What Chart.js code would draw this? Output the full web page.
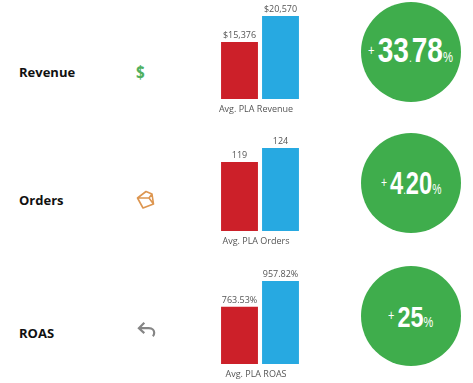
<!DOCTYPE html>
<html>
<head>
<meta charset="utf-8">
<script src="https://cdn.jsdelivr.net/npm/chart.js@4/dist/chart.umd.min.js"></script>
<style>
  html, body { margin: 0; padding: 0; background: #fff; }
  #page { position: relative; width: 473px; height: 383px; overflow: hidden; }
  canvas { position: absolute; left: 200px; }
  .name { position: absolute; left: 19px; font: bold 13px "Open Sans", sans-serif; color: #111; line-height: 20px; }
  .icon { position: absolute; }
  .circle { position: absolute; left: 361px; width: 100px; height: 100px; border-radius: 50%; background: #3fad4c; }
  .pct { position: absolute; white-space: nowrap; color: #fff; font-family: "Liberation Sans", sans-serif; font-weight: bold; line-height: 40px; transform-origin: left center; }
  .pct small { font-weight: normal; font-size: 14px; }
  .pct .plus { position: relative; top: -7px; margin-right: 4px; }
  .pct .dot { font-size: 13px; font-weight: normal; }
</style>
</head>
<body>
<div id="page">
  <div class="name" style="top:62px">Revenue</div>
  <div class="name" style="top:190px">Orders</div>
  <div class="name" style="top:323px">ROAS</div>

  <div class="icon" style="left:136px;top:60px;font:bold 18px 'Open Sans',sans-serif;color:#4fb05f;line-height:24px;transform:scaleX(.85);transform-origin:left center">$</div>
  <svg class="icon" style="left:134px;top:187px" width="22" height="24" viewBox="0 0 22 24" fill="none" stroke="#dd9650" stroke-width="1.6" stroke-linejoin="round">
    <path d="M3.5 11 L12 4.5 L18 7 L19.5 17 L9 21 Z M3.5 11 L15 11 L19.5 17 M15 11 L18 7"/>
  </svg>
  <svg class="icon" style="left:137px;top:321px" width="20" height="18" viewBox="0 0 22 20" fill="none" stroke="#858585" stroke-width="2.4">
    <path d="M8 2 L2 8 L8 13.5 M2 8 L13 8 C17.5 8 19 11 19 13 C19 15 18.5 16 17.5 17"/>
  </svg>

  <canvas id="chart0" width="120" height="118" style="top:0"></canvas>
  <canvas id="chart1" width="120" height="118" style="top:132px"></canvas>
  <canvas id="chart2" width="120" height="118" style="top:265px"></canvas>
</div>

<script>
const categories = ['Avg. PLA Revenue', 'Avg. PLA Orders', 'Avg. PLA ROAS'];
const redValues = [15376, 119, 763.53];
const blueValues = [20570, 124, 957.82];
const redLabels = ['$15,376', '119', '763.53%'];
const blueLabels = ['$20,570', '124', '957.82%'];
// the source bars are not drawn from zero
const axisMins = [3975, 94.6, 331];
const liftWhole = ['33', '4', '25'];
const liftDecimal = ['78', '20', ''];

const RED = '#cc2029';
const BLUE = '#27a9e1';

const circleTops = [2, 133, 266];
const pctPos = [
  { left: 368, top: 30, size: 35, squeeze: 0.8 },
  { left: 381, top: 163, size: 32, squeeze: 0.74 },
  { left: 388, top: 297, size: 30, squeeze: 0.78 }
];

const page = document.getElementById('page');
circleTops.forEach((top, i) => {
  const c = document.createElement('div');
  c.className = 'circle';
  c.style.top = top + 'px';
  page.appendChild(c);

  const p = pctPos[i];
  const t = document.createElement('div');
  t.className = 'pct';
  t.style.left = p.left + 'px';
  t.style.top = p.top + 'px';
  t.style.fontSize = p.size + 'px';
  t.style.transform = `scaleX(${p.squeeze})`;
  const decimals = liftDecimal[i] ? `<span class="dot">.</span>${liftDecimal[i]}` : '';
  t.innerHTML = `<small class="plus">+</small>${liftWhole[i]}${decimals}<small>%</small>`;
  page.appendChild(t);
});

// value labels above the bars
const barLabels = {
  id: 'barLabels',
  afterDatasetsDraw(chart, args, opts) {
    const ctx = chart.ctx;
    ctx.save();
    ctx.font = '9px "Open Sans", sans-serif';
    ctx.fillStyle = '#555';
    ctx.textAlign = 'center';
    ctx.textBaseline = 'bottom';
    chart.data.datasets.forEach((ds, d) => {
      const bar = chart.getDatasetMeta(d).data[0];
      ctx.fillText(opts.labels[d], bar.x, bar.y - 2);
    });
    ctx.restore();
  }
};

categories.forEach((cat, i) => {
  new Chart(document.getElementById('chart' + i), {
    type: 'bar',
    data: {
      labels: [cat],
      datasets: [
        { data: [redValues[i]], backgroundColor: RED, barPercentage: 0.9, categoryPercentage: 1 },
        { data: [blueValues[i]], backgroundColor: BLUE, barPercentage: 0.9, categoryPercentage: 1 }
      ]
    },
    options: {
      responsive: false,
      animation: false,
      layout: { padding: { left: 19, right: 19, top: 16, bottom: 0 } },
      plugins: {
        legend: { display: false },
        tooltip: { enabled: false },
        barLabels: { labels: [redLabels[i], blueLabels[i]] }
      },
      scales: {
        x: {
          grid: { display: false, drawTicks: false },
          border: { display: false },
          ticks: { color: '#555', font: { family: '"Open Sans", sans-serif', size: 9 }, padding: 5, labelOffset: -4, maxRotation: 0, autoSkip: false },
          afterFit: s => { s.height = 19; }
        },
        y: { display: false, min: axisMins[i], max: blueValues[i] }
      }
    },
    plugins: [barLabels]
  });
});
</script>
</body>
</html>
